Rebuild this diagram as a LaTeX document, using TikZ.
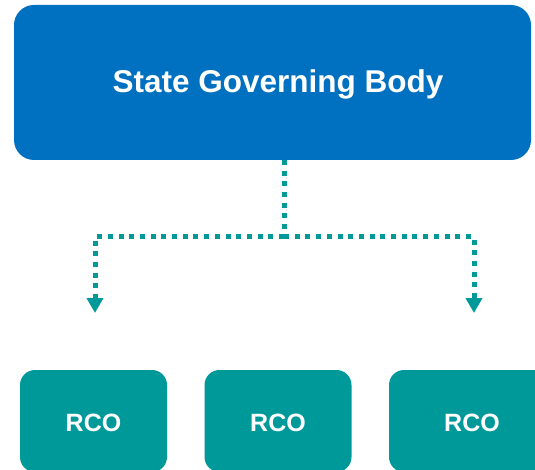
\documentclass[tikz,border=0pt]{standalone}
\usepackage{fontspec}
\setmainfont{Liberation Sans}
\usetikzlibrary{arrows.meta}
\definecolor{sgblue}{RGB}{0,112,192}
\definecolor{rcoteal}{RGB}{0,153,153}
\tikzset{
  sgbox/.style={fill=sgblue, rounded corners=20pt, inner sep=0pt, text=white,
    font=\bfseries\fontsize{31.5}{36}\selectfont},
  rcobox/.style={fill=rcoteal, rounded corners=15pt, inner sep=0pt, text=white,
    minimum width=147pt, minimum height=102pt, font=\bfseries\fontsize{25}{30}\selectfont},
  rcolabel/.style={text=white, font=\bfseries\fontsize{25}{30}\selectfont},
  dotline/.style={draw=rcoteal, line width=5pt, dash pattern=on 5pt off 5.7pt},
  tip/.style={-{Triangle[width=16pt,length=15pt]}}
}
\begin{document}
\begin{tikzpicture}[x=1pt,y=1pt]
\useasboundingbox (0,0) rectangle (535,-470);
\begin{scope}
\clip (0,0) rectangle (535,-470);
\node[sgbox, minimum width=517pt, minimum height=155pt] (sgb) at (272.5,-82.5) {};
\node[text=white, font=\bfseries\fontsize{31.5}{36}\selectfont] (title) at (278,-84) {State Governing Body};
\node[rcobox] (r1) at (93.5,-421) {};
\node[rcobox] (r2) at (278,-421) {};
\node[rcobox, minimum width=170pt] (r3) at (474,-421) {};
\node[rcolabel] (t1) at (93.5,-422.5) {RCO};
\node[rcolabel] (t2) at (278,-422.5) {RCO};
\node[rcolabel] (t3) at (472,-422.5) {RCO};
\coordinate (top) at (284,-160);
\coordinate (j) at (284,-237);
\coordinate (a1) at (95,-313);
\coordinate (a3) at (474,-313);
\draw[dotline] (top) -- (j);
\draw[dotline, rcoteal, tip] (j) -| (a1);
\draw[dotline, rcoteal, tip] (j) -| (a3);
\end{scope}
\end{tikzpicture}
\end{document}
